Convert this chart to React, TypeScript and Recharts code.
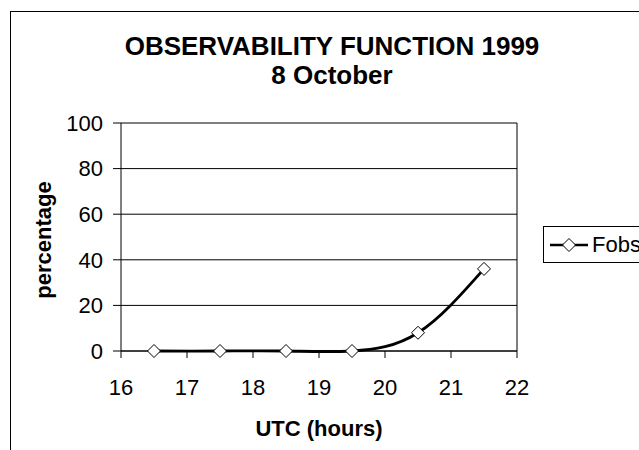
import React from 'react';
import { LineChart, Line, XAxis, YAxis, CartesianGrid, Legend, ReferenceLine } from 'recharts';

const hours = [16.5, 17.5, 18.5, 19.5, 20.5, 21.5];
const fobs = [0, 0, 0, 0, 8, 36];
const xTicks = [16, 17, 18, 19, 20, 21, 22];
const yTicks = [0, 20, 40, 60, 80, 100];
const seriesName = 'Fobs';
const titleLines = ['OBSERVABILITY FUNCTION 1999', '8 October'];
const xTitle = 'UTC (hours)';
const yTitle = 'percentage';

const data = hours.map((h, i) => ({ h, fobs: fobs[i] }));

const FONT = '"Liberation Sans", Arial, sans-serif';

const renderDiamond = (props: any) => {
  const { cx, cy, index } = props;
  if (cx == null || cy == null) return <g key={`d-${index}`} />;
  const r = 6.5;
  return (
    <path
      key={`d-${index}`}
      d={`M${cx},${cy - r}L${cx + r},${cy}L${cx},${cy + r}L${cx - r},${cy}Z`}
      fill="#fff"
      stroke="#000"
      strokeWidth={1}
    />
  );
};

const renderLegend = () => (
  <div
    style={{
      boxSizing: 'border-box',
      width: 120,
      height: 37,
      border: '1px solid #000',
      background: '#fff',
      display: 'flex',
      alignItems: 'center',
      fontFamily: FONT,
      fontSize: 22,
      color: '#000',
      whiteSpace: 'nowrap',
    }}
  >
    <svg width={43} height={20} style={{ marginLeft: 5 }}>
      <line x1={1} y1={10} x2={39} y2={10} stroke="#000" strokeWidth={2.5} />
      <path d="M20,3.5L26.5,10L20,16.5L13.5,10Z" fill="#fff" stroke="#000" strokeWidth={1} />
    </svg>
    <span>{seriesName}</span>
  </div>
);

export default function App() {
  return (
    <div
      style={{
        position: 'absolute',
        left: 0,
        top: 0,
        width: 639,
        height: 450,
        overflow: 'hidden',
        background: '#fff',
      }}
    >
      <div
        style={{
          position: 'absolute',
          left: 10,
          top: 11,
          width: 700,
          height: 500,
          border: '1px solid #000',
        }}
      />
      <div style={{ position: 'absolute', left: 0, top: 0 }}>
        <LineChart
          width={639}
          height={450}
          data={data}
          margin={{ top: 123, right: 122, bottom: 69, left: 61 }}
        >
          <CartesianGrid horizontal={true} vertical={false} stroke="#000" strokeWidth={1} />
          <XAxis
            type="number"
            dataKey="h"
            domain={[16, 22]}
            ticks={xTicks}
            interval={0}
            height={30}
            tickSize={7}
            tickMargin={21}
            axisLine={{ stroke: '#000', strokeWidth: 1 }}
            tickLine={{ stroke: '#000', strokeWidth: 1 }}
            tick={{ fill: '#000', fontSize: 22, fontFamily: FONT }}
          />
          <YAxis
            type="number"
            domain={[0, 100]}
            ticks={yTicks}
            interval={0}
            width={60}
            tickSize={8}
            tickMargin={10}
            axisLine={{ stroke: '#000', strokeWidth: 1 }}
            tickLine={{ stroke: '#000', strokeWidth: 1 }}
            tick={{ fill: '#000', fontSize: 22, fontFamily: FONT }}
          />
          <ReferenceLine x={22} stroke="#000" strokeWidth={1} />
          <Legend
            layout="vertical"
            align="center"
            verticalAlign="middle"
            content={renderLegend}
            wrapperStyle={{ left: 543, top: 226, width: 120, height: 37 }}
          />
          <Line
            name={seriesName}
            type="natural"
            dataKey="fobs"
            stroke="#000"
            strokeWidth={2.8}
            dot={renderDiamond}
            activeDot={false}
            isAnimationActive={false}
          />
        </LineChart>
      </div>
      <div
        style={{
          position: 'absolute',
          left: 0,
          width: 664,
          top: 32,
          textAlign: 'center',
          fontFamily: FONT,
          fontWeight: 'bold',
          fontSize: 26,
          lineHeight: '29px',
          color: '#000',
          whiteSpace: 'nowrap',
        }}
      >
        <div>{titleLines[0]}</div>
        <div>{titleLines[1]}</div>
      </div>
      <div
        style={{
          position: 'absolute',
          left: 121,
          width: 396,
          top: 416,
          textAlign: 'center',
          fontFamily: FONT,
          fontWeight: 'bold',
          fontSize: 22,
          lineHeight: '26px',
          color: '#000',
        }}
      >
        {xTitle}
      </div>
      <div
        style={{
          position: 'absolute',
          left: 44 - 100,
          width: 200,
          top: 240 - 13,
          height: 26,
          lineHeight: '26px',
          textAlign: 'center',
          transform: 'rotate(-90deg)',
          fontFamily: FONT,
          fontWeight: 'bold',
          fontSize: 22,
          color: '#000',
        }}
      >
        {yTitle}
      </div>
    </div>
  );
}
